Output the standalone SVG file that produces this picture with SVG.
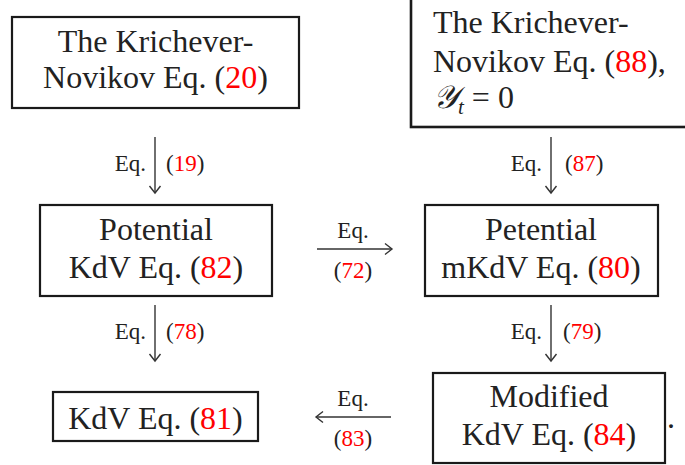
<svg xmlns="http://www.w3.org/2000/svg" width="685" height="465" viewBox="0 0 685 465">
<style>
.box{fill:#fff;stroke:#1a1a1a;stroke-width:2.2}
text{font-family:'Liberation Serif','Times New Roman','DejaVu Serif',serif}
.big{font-size:32px;fill:#222}
.sm{font-size:23px;fill:#222}
.r{fill:#ff0000}
.ln{stroke:#333;stroke-width:1.4;fill:none}
</style>
<rect width="685" height="465" fill="#fff"/>
<g id="n1">
<rect class="box" x="12" y="17" width="287" height="91"/>
<text class="big" x="155.5" y="52" text-anchor="middle">The Krichever-</text>
<text class="big" x="155.5" y="88" text-anchor="middle">Novikov Eq. (<tspan class="r">20</tspan>)</text>
</g>
<g id="n2">
<rect class="box" x="411" y="-10" width="290" height="137" style="stroke-width:2.6"/>
<text class="big" x="433" y="33">The Krichever-</text>
<text class="big" x="433" y="72">Novikov Eq. (<tspan class="r">88</tspan>),</text>
<text class="big" x="433" y="108"><tspan font-style="italic">𝒴</tspan><tspan font-size="21" font-style="italic" dy="6">t</tspan><tspan dy="-6"> = 0</tspan></text>
</g>
<g id="n3">
<rect class="box" x="40" y="205" width="232" height="91"/>
<text class="big" x="156" y="240" text-anchor="middle">Potential</text>
<text class="big" x="156" y="278" text-anchor="middle">KdV Eq. (<tspan class="r">82</tspan>)</text>
</g>
<g id="n4">
<rect class="box" x="425" y="205" width="233" height="91"/>
<text class="big" x="541" y="240" text-anchor="middle">Petential</text>
<text class="big" x="541" y="278" text-anchor="middle">mKdV Eq. (<tspan class="r">80</tspan>)</text>
</g>
<g id="n5">
<rect class="box" x="53" y="392" width="205" height="49"/>
<text class="big" x="155.5" y="429" text-anchor="middle">KdV Eq. (<tspan class="r">81</tspan>)</text>
</g>
<g id="n6">
<rect class="box" x="433" y="373" width="232" height="90"/>
<text class="big" x="549" y="407" text-anchor="middle">Modified</text>
<text class="big" x="549" y="445" text-anchor="middle">KdV Eq. (<tspan class="r">84</tspan>)</text>
</g>
<text class="big" x="667" y="428">.</text>
<g id="connectors">
<line class="ln" x1="155" y1="137" x2="155" y2="193"/>
<polyline class="ln" points="149.5,186 155,193 160.5,186"/>
<text class="sm" x="146" y="171" text-anchor="end">Eq.</text>
<text class="sm" x="166" y="171">(<tspan class="r">19</tspan>)</text>

<line class="ln" x1="551" y1="137" x2="551" y2="193"/>
<polyline class="ln" points="545.5,186 551,193 556.5,186"/>
<text class="sm" x="542" y="171" text-anchor="end">Eq.</text>
<text class="sm" x="565" y="171">(<tspan class="r">87</tspan>)</text>

<line class="ln" x1="155" y1="305" x2="155" y2="361"/>
<polyline class="ln" points="149.5,354 155,361 160.5,354"/>
<text class="sm" x="146" y="339" text-anchor="end">Eq.</text>
<text class="sm" x="166" y="339">(<tspan class="r">78</tspan>)</text>

<line class="ln" x1="551" y1="305" x2="551" y2="361"/>
<polyline class="ln" points="545.5,354 551,361 556.5,354"/>
<text class="sm" x="542" y="339" text-anchor="end">Eq.</text>
<text class="sm" x="563" y="339">(<tspan class="r">79</tspan>)</text>

<line class="ln" x1="317" y1="249" x2="392" y2="249"/>
<polyline class="ln" points="385,243.5 392,249 385,254.5"/>
<text class="sm" x="353" y="238" text-anchor="middle">Eq.</text>
<text class="sm" x="353" y="278" text-anchor="middle">(<tspan class="r">72</tspan>)</text>

<line class="ln" x1="316" y1="417" x2="391" y2="417"/>
<polyline class="ln" points="323,411.5 316,417 323,422.5"/>
<text class="sm" x="353" y="406" text-anchor="middle">Eq.</text>
<text class="sm" x="353" y="446" text-anchor="middle">(<tspan class="r">83</tspan>)</text>
</g>
</svg>
